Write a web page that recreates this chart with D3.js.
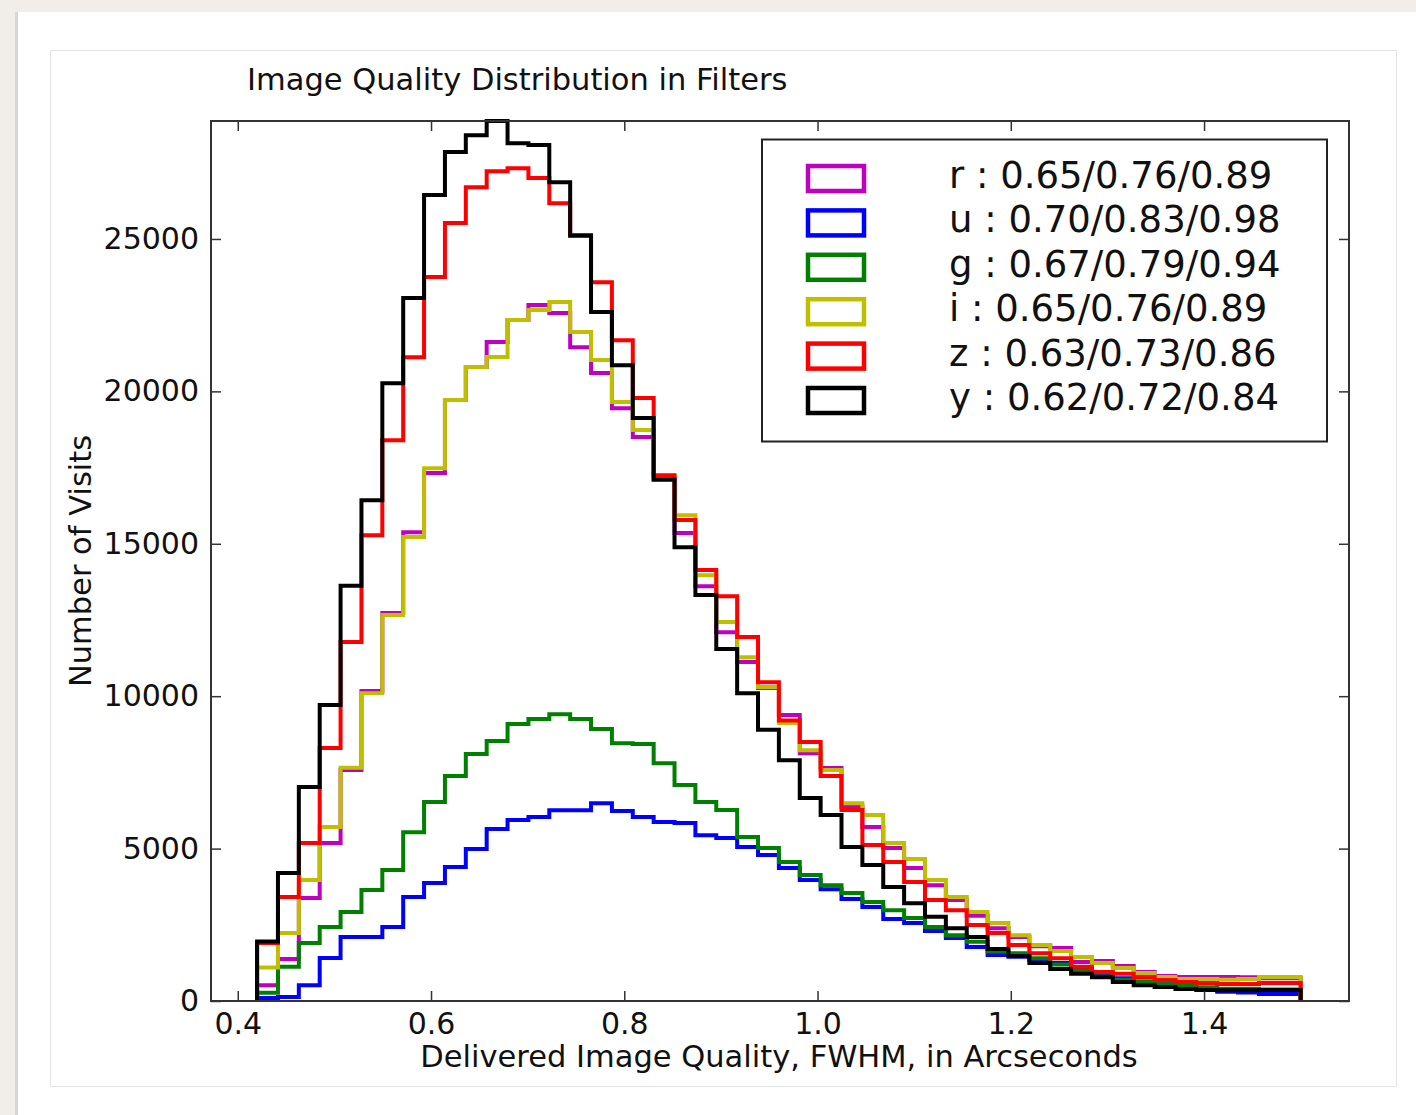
<!DOCTYPE html>
<html>
<head>
<meta charset="utf-8">
<script src="https://cdn.jsdelivr.net/npm/d3@7"></script>
<style>
  body { margin: 0; background: #f1eee9; }
  svg { display: block; }
  text { font-family: "DejaVu Sans", sans-serif; fill: #111; }
</style>
</head>
<body>
<div id="chart"></div>
<script>
// histogram bin edges: 50 bins from 0.42 to 1.50
const binStart = 0.42, binEnd = 1.50, binCount = 50;

const xTicks = [0.4, 0.6, 0.8, 1.0, 1.2, 1.4];
const yTicks = [0, 5000, 10000, 15000, 20000, 25000];

const filterNames = ["r", "u", "g", "i", "z", "y"];
const filterColors = ["#bf00bf", "#0000ff", "#008000", "#bfbf00", "#ff0000", "#000000"];
const legendLabels = [
  "r : 0.65/0.76/0.89",
  "u : 0.70/0.83/0.98",
  "g : 0.67/0.79/0.94",
  "i : 0.65/0.76/0.89",
  "z : 0.63/0.73/0.86",
  "y : 0.62/0.72/0.84"
];

// counts per bin
const rCounts = [520, 1380, 3380, 5180, 7580, 10170, 12730, 15380, 17320, 19720,
  20800, 21620, 22340, 22830, 22570, 21450, 20600, 19450, 18500, 17100,
  15350, 13610, 12100, 11120, 10270, 9380, 8130, 7640, 6370, 5710,
  5020, 4360, 3800, 3310, 2800, 2390, 2100, 1800, 1740, 1280,
  1310, 1150, 950, 820, 790, 790, 790, 780, 750, 750];
const uCounts = [100, 130, 520, 1410, 2100, 2100, 2430, 3410, 3870, 4400,
  4990, 5640, 5940, 6040, 6260, 6260, 6490, 6230, 6040, 5870,
  5840, 5440, 5350, 5050, 4790, 4360, 3970, 3670, 3350, 3080,
  2690, 2560, 2300, 2070, 1770, 1510, 1450, 1350, 1250, 1050,
  900, 750, 620, 550, 480, 400, 300, 280, 230, 230];
const gCounts = [270, 1120, 1900, 2430, 2920, 3640, 4300, 5540, 6530, 7380,
  8100, 8530, 9090, 9250, 9410, 9250, 8920, 8460, 8430, 7800,
  7090, 6530, 6270, 5380, 5020, 4560, 4130, 3800, 3540, 3250,
  2980, 2720, 2430, 2160, 1940, 1620, 1570, 1400, 1200, 1000,
  800, 700, 650, 550, 500, 450, 400, 400, 380, 380];
const iCounts = [1100, 2230, 3970, 5710, 7650, 10100, 12660, 15220, 17480, 19720,
  20800, 21130, 22340, 22670, 22930, 21950, 21030, 19650, 18730, 17200,
  15940, 13970, 12430, 11280, 10300, 9120, 8230, 7580, 6490, 6100,
  5180, 4660, 3970, 3410, 2920, 2560, 2160, 1840, 1640, 1440,
  1250, 1080, 920, 790, 720, 720, 700, 720, 790, 790];
const zCounts = [1900, 3410, 5180, 8300, 11780, 15280, 18400, 21120, 23750, 25520,
  26700, 27220, 27320, 27000, 26170, 25100, 23580, 21680, 19780, 17250,
  15780, 14140, 13280, 11940, 10460, 9200, 8500, 7380, 6270, 5120,
  4560, 3900, 3310, 2980, 2490, 2230, 1840, 1570, 1400, 1120,
  950, 890, 790, 690, 620, 590, 560, 560, 590, 590];
const yCounts = [1950, 4200, 7020, 9710, 13620, 16430, 20270, 23060, 26440, 27850,
  28400, 28870, 28140, 28080, 26860, 25120, 22600, 20860, 19130, 17110,
  14890, 13320, 11550, 10100, 8900, 7900, 6660, 6100, 5050, 4460,
  3740, 3210, 2760, 2390, 2100, 1710, 1480, 1250, 1050, 890,
  780, 620, 520, 460, 390, 360, 350, 350, 360, 360];

const allCounts = [rCounts, uCounts, gCounts, iCounts, zCounts, yCounts];

const W = 1416, H = 1115;
const svg = d3.select("#chart").append("svg")
  .attr("width", W)
  .attr("height", H);

// screenshot frame
svg.append("rect").attr("x", 0).attr("y", 0).attr("width", W).attr("height", H).attr("fill", "#f1eee9");
svg.append("rect").attr("x", 15).attr("y", 12).attr("width", W - 15).attr("height", H - 12).attr("fill", "#ffffff");
svg.append("rect").attr("x", 15).attr("y", 12).attr("width", 3).attr("height", H - 12).attr("fill", "#d8d6d2");
svg.append("rect").attr("x", 50.5).attr("y", 50.5).attr("width", 1346).attr("height", 1036)
  .attr("fill", "#fff").attr("stroke", "#e4e4e4");

const plot = {left: 211, top: 121, right: 1349, bottom: 1001};

const x = d3.scaleLinear()
  .domain([0.3723, 1.55])
  .range([plot.left, plot.right]);

const y = d3.scaleLinear()
  .domain([0, d3.max(allCounts, c => d3.max(c))])
  .range([plot.bottom, plot.top]);

const binWidth = (binEnd - binStart) / binCount;
const edges = d3.range(binCount + 1).map(i => binStart + i * binWidth);

const g = svg.append("g");

// step histograms, in plotting order
allCounts.forEach((counts, s) => {
  const pts = [[edges[0], 0]];
  counts.forEach((c, i) => {
    pts.push([edges[i], c]);
    pts.push([edges[i + 1], c]);
  });
  pts.push([edges[binCount], 0]);
  g.append("path")
    .attr("d", d3.line().x(d => x(d[0])).y(d => y(d[1]))(pts))
    .attr("fill", "none")
    .attr("stroke", filterColors[s])
    .attr("stroke-width", 4)
    .attr("stroke-linejoin", "miter");
});

// frame
svg.append("rect")
  .attr("x", plot.left).attr("y", plot.top)
  .attr("width", plot.right - plot.left).attr("height", plot.bottom - plot.top)
  .attr("fill", "none").attr("stroke", "#333").attr("stroke-width", 2);

// axes with inward ticks
const tickLen = 10;
const xAxis = svg.append("g")
  .attr("transform", `translate(0,${plot.bottom})`)
  .call(d3.axisBottom(x).tickValues(xTicks).tickSize(-tickLen).tickPadding(11)
    .tickFormat(d3.format(".1f")));
const xAxisTop = svg.append("g")
  .attr("transform", `translate(0,${plot.top})`)
  .call(d3.axisTop(x).tickValues(xTicks).tickSize(-tickLen).tickFormat(""));
const yAxis = svg.append("g")
  .attr("transform", `translate(${plot.left},0)`)
  .call(d3.axisLeft(y).tickValues(yTicks).tickSize(-tickLen).tickPadding(12)
    .tickFormat(d3.format("d")));
const yAxisRight = svg.append("g")
  .attr("transform", `translate(${plot.right},0)`)
  .call(d3.axisRight(y).tickValues(yTicks).tickSize(-tickLen).tickFormat(""));

[xAxis, xAxisTop, yAxis, yAxisRight].forEach(a => {
  a.select(".domain").remove();
  a.selectAll(".tick line").attr("stroke", "#333").attr("stroke-width", 1.5);
  a.selectAll(".tick text").attr("font-size", 30).attr("font-family", "DejaVu Sans").attr("fill", "#111");
});
xAxis.selectAll(".tick text").attr("dy", "0.72em");

// labels
svg.append("text")
  .attr("x", 247).attr("y", 90)
  .attr("font-size", 30.5)
  .text("Image Quality Distribution in Filters");

svg.append("text")
  .attr("x", 779).attr("y", 1067)
  .attr("text-anchor", "middle")
  .attr("font-size", 30.5)
  .text("Delivered Image Quality, FWHM, in Arcseconds");

svg.append("text")
  .attr("transform", `translate(91,${561}) rotate(-90)`)
  .attr("text-anchor", "middle")
  .attr("font-size", 30.5)
  .text("Number of Visits");

// legend
const legend = svg.append("g");
legend.append("rect")
  .attr("x", 762).attr("y", 139.5).attr("width", 565).attr("height", 302)
  .attr("fill", "#fff").attr("stroke", "#222").attr("stroke-width", 2);

const legendRows = legend.selectAll("g.row")
  .data(legendLabels)
  .enter().append("g")
  .attr("class", "row")
  .attr("transform", (d, i) => `translate(0,${178 + i * 44.4})`);

legendRows.append("rect")
  .attr("x", 808).attr("y", -12).attr("width", 56).attr("height", 25)
  .attr("fill", "none")
  .attr("stroke", (d, i) => filterColors[i])
  .attr("stroke-width", 4.5);

legendRows.append("text")
  .attr("x", 949).attr("y", 10)
  .attr("font-size", 37)
  .text(d => d);
</script>
</body>
</html>
